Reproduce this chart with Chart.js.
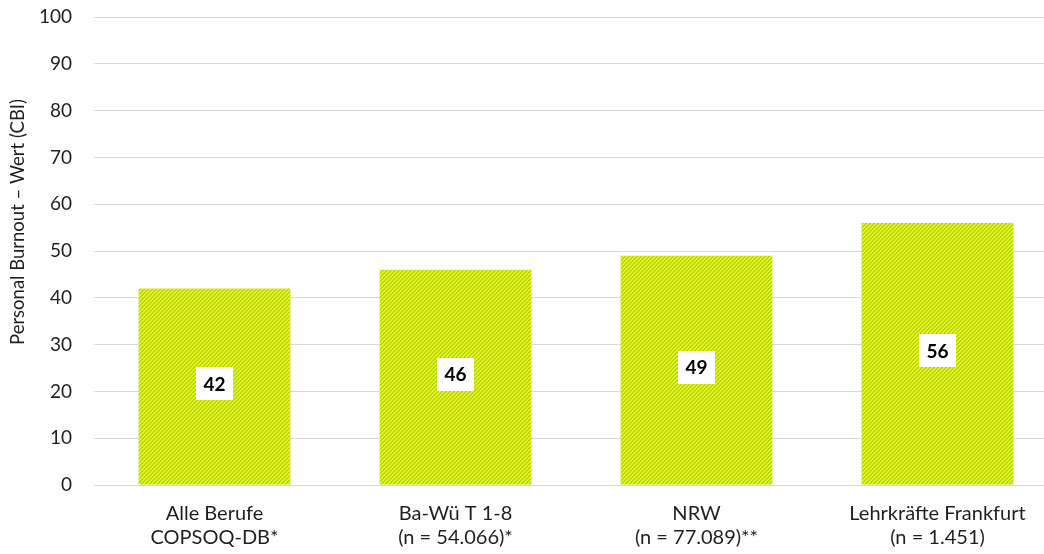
<!DOCTYPE html>
<html>
<head>
<meta charset="utf-8">
<script src="https://cdn.jsdelivr.net/npm/chart.js@4/dist/chart.umd.min.js"></script>
<style>
  html, body { margin: 0; padding: 0; background: #ffffff; overflow: hidden; }
  #wrap { width: 1044px; height: 554px; position: relative; overflow: hidden; }
  #c { display: block; }
</style>
</head>
<body>
<div id="wrap"><canvas id="c" width="1058" height="554"></canvas></div>
<script>
// Categories (two-line labels) and burnout scores
const categories = [
  ['Alle Berufe', 'COPSOQ-DB*'],
  ['Ba-Wü T 1-8', '(n = 54.066)*'],
  ['NRW', '(n = 77.089)**'],
  ['Lehrkräfte Frankfurt', '(n = 1.451)']
];
const burnoutValues = [42, 46, 49, 56];
const yTicks = [0, 10, 20, 30, 40, 50, 60, 70, 80, 90, 100];
const yAxisTitle = 'Personal Burnout – Wert (CBI)';

const FONT = 'Lato, "Open Sans", "Liberation Sans", sans-serif';
const TEXT_COLOR = '#1f1f1f';

// Pixel-based diagonal stripe fill for the bars
function makeStripes() {
  const s = 4;
  const p = document.createElement('canvas');
  p.width = s; p.height = s;
  const g = p.getContext('2d');
  for (let y = 0; y < s; y++) {
    for (let x = 0; x < s; x++) {
      g.fillStyle = ((x + y) % 4 < 2) ? '#bdd312' : '#e3f81d';
      g.fillRect(x, y, 1, 1);
    }
  }
  return g.createPattern(p, 'repeat');
}

// Rotated y-axis title
const yTitlePlugin = {
  id: 'yTitle',
  afterDraw(chart) {
    const ctx = chart.ctx;
    ctx.save();
    ctx.translate(18, 222);
    ctx.rotate(-Math.PI / 2);
    ctx.font = '18.5px ' + FONT;
    ctx.fillStyle = TEXT_COLOR;
    ctx.textAlign = 'center';
    ctx.textBaseline = 'middle';
    ctx.fillText(yAxisTitle, 0, 0);
    ctx.restore();
  }
};

// White boxed value labels at the middle of each bar
const valueLabelPlugin = {
  id: 'valueLabels',
  afterDatasetsDraw(chart) {
    const ctx = chart.ctx;
    const meta = chart.getDatasetMeta(0);
    ctx.save();
    ctx.font = 'bold 19px ' + FONT;
    ctx.textAlign = 'center';
    ctx.textBaseline = 'middle';
    meta.data.forEach((bar, i) => {
      const v = chart.data.datasets[0].data[i];
      const txt = String(v);
      const cx = bar.x;
      const cy = (bar.y + bar.base) / 2 - 3;
      const w = ctx.measureText(txt).width + 15;
      const h = 33;
      ctx.fillStyle = '#ffffff';
      ctx.fillRect(Math.round(cx - w / 2), Math.round(cy - h / 2), Math.round(w), h);
      ctx.fillStyle = '#000000';
      ctx.fillText(txt, cx, cy + 1);
    });
    ctx.restore();
  }
};

const ctx = document.getElementById('c').getContext('2d');
new Chart(ctx, {
  type: 'bar',
  data: {
    labels: categories,
    datasets: [{
      data: burnoutValues,
      backgroundColor: makeStripes(),
      borderWidth: 0,
      categoryPercentage: 1.0,
      barPercentage: 0.63
    }]
  },
  options: {
    responsive: false,
    animation: false,
    devicePixelRatio: 1,
    layout: { autoPadding: false, padding: { left: 0, right: 0, top: 17, bottom: 0 } },
    plugins: { legend: { display: false }, tooltip: { enabled: false } },
    scales: {
      x: {
        grid: { display: false, drawTicks: false },
        border: { display: false },
        ticks: {
          font: { family: FONT, size: 20, lineHeight: 1.2 },
          color: TEXT_COLOR,
          padding: 17,
          maxRotation: 0,
          autoSkip: false
        },
        afterFit(scale) { scale.height = 69; }
      },
      y: {
        min: 0, max: 100,
        afterBuildTicks(scale) { scale.ticks = yTicks.map(v => ({ value: v })); },
        grid: { color: '#d9d9d9', lineWidth: 1, drawTicks: false },
        border: { display: false },
        ticks: {
          font: { family: FONT, size: 19 },
          color: TEXT_COLOR,
          padding: 22
        },
        afterFit(scale) { scale.width = 94; scale.paddingTop = 0; scale.paddingBottom = 0; }
      }
    }
  },
  plugins: [yTitlePlugin, valueLabelPlugin]
});
</script>
</body>
</html>
